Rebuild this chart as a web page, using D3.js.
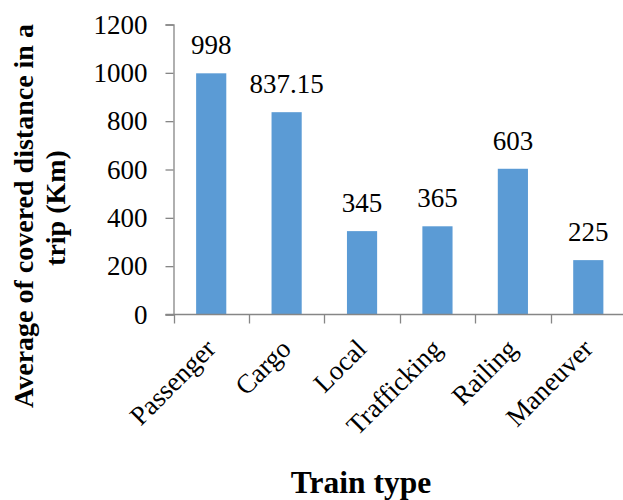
<!DOCTYPE html>
<html>
<head>
<meta charset="utf-8">
<script src="https://cdn.jsdelivr.net/npm/d3@7"></script>
<style>
  html, body { margin: 0; padding: 0; background: #fff; }
  svg { display: block; }
  svg text { font-family: "Liberation Serif", "Times New Roman", Times, serif; fill: #000; }
</style>
</head>
<body>
<svg id="chart" width="623" height="500"></svg>
<script>
// Average covered distance per trip, by train type
const categories = ["Passenger", "Cargo", "Local", "Trafficking", "Railing", "Maneuver"];
const values = [998, 837.15, 345, 365, 603, 225];
const valueLabels = ["998", "837.15", "345", "365", "603", "225"];
const yTicks = [0, 200, 400, 600, 800, 1000, 1200];

const serif = "'Liberation Serif', 'Times New Roman', Times, serif";
const svg = d3.select("#chart").attr("font-family", serif);
const axisColor = "#868686";
const barColor = "#5B9BD5";
const labelSize = 27;

const plot = { left: 173.5, right: 626, top: 24.5, bottom: 314.5 };

const x = d3.scaleBand().domain(categories).range([plot.left, plot.right]).paddingInner(0.6).paddingOuter(0.3);
const xTick = d3.scaleBand().domain(categories).range([plot.left, plot.right]);
const y = d3.scaleLinear().domain([0, 1200]).range([plot.bottom, plot.top]);

// Bars
svg.append("g").selectAll("rect")
  .data(categories)
  .join("rect")
  .attr("x", d => x(d))
  .attr("width", x.bandwidth())
  .attr("y", (d, i) => y(values[i]))
  .attr("height", (d, i) => y(0) - y(values[i]))
  .attr("fill", barColor);

// Value labels
svg.append("g").selectAll("text")
  .data(categories)
  .join("text")
  .attr("x", d => x(d) + x.bandwidth() / 2)
  .attr("y", (d, i) => y(values[i]) - 19)
  .attr("text-anchor", "middle")
  .attr("font-family", serif)
  .attr("font-size", labelSize)
  .text((d, i) => valueLabels[i]);

// Y axis
const yAxis = svg.append("g")
  .attr("transform", `translate(${plot.left},0)`)
  .call(d3.axisLeft(y).tickValues(yTicks).tickSize(8).tickPadding(18).tickFormat(d3.format("d")))
  .attr("font-family", serif)
  .attr("font-size", labelSize);
yAxis.select(".domain").attr("stroke", axisColor).attr("stroke-width", 1.3);
yAxis.selectAll(".tick line").attr("stroke", axisColor).attr("stroke-width", 1.3);
yAxis.selectAll(".tick text").attr("fill", "#000");

// X axis: ticks at category boundaries
const xAxisG = svg.append("g").attr("transform", `translate(0,${plot.bottom})`);
xAxisG.append("line")
  .attr("x1", plot.left - 8).attr("x2", plot.right)
  .attr("stroke", axisColor).attr("stroke-width", 1.3);
xAxisG.selectAll("line.tick")
  .data(categories)
  .join("line")
  .attr("class", "tick")
  .attr("x1", d => Math.round(xTick(d)) + 0.5)
  .attr("x2", d => Math.round(xTick(d)) + 0.5)
  .attr("y1", 0).attr("y2", 9)
  .attr("stroke", axisColor).attr("stroke-width", 1.3);

// Rotated category labels
svg.append("g").selectAll("text")
  .data(categories)
  .join("text")
  .attr("transform", d => `translate(${x(d) + x.bandwidth() / 2 + 6},${plot.bottom + 36}) rotate(-45)`)
  .attr("text-anchor", "end")
  .attr("font-family", serif)
  .attr("font-size", labelSize)
  .text(d => d);

// Axis titles
svg.append("text")
  .attr("x", 361).attr("y", 493)
  .attr("text-anchor", "middle")
  .attr("font-family", serif)
  .attr("font-size", 31.5)
  .attr("font-weight", "bold")
  .text("Train type");

const yTitle = svg.append("text")
  .attr("transform", "rotate(-90)")
  .attr("text-anchor", "middle")
  .attr("font-family", serif)
  .attr("font-size", 28)
  .attr("font-weight", "bold");
yTitle.append("tspan").attr("x", -216).attr("y", 33).text("Average of covered distance in a");
yTitle.append("tspan").attr("x", -208).attr("y", 65).text("trip (Km)");
</script>
</body>
</html>
